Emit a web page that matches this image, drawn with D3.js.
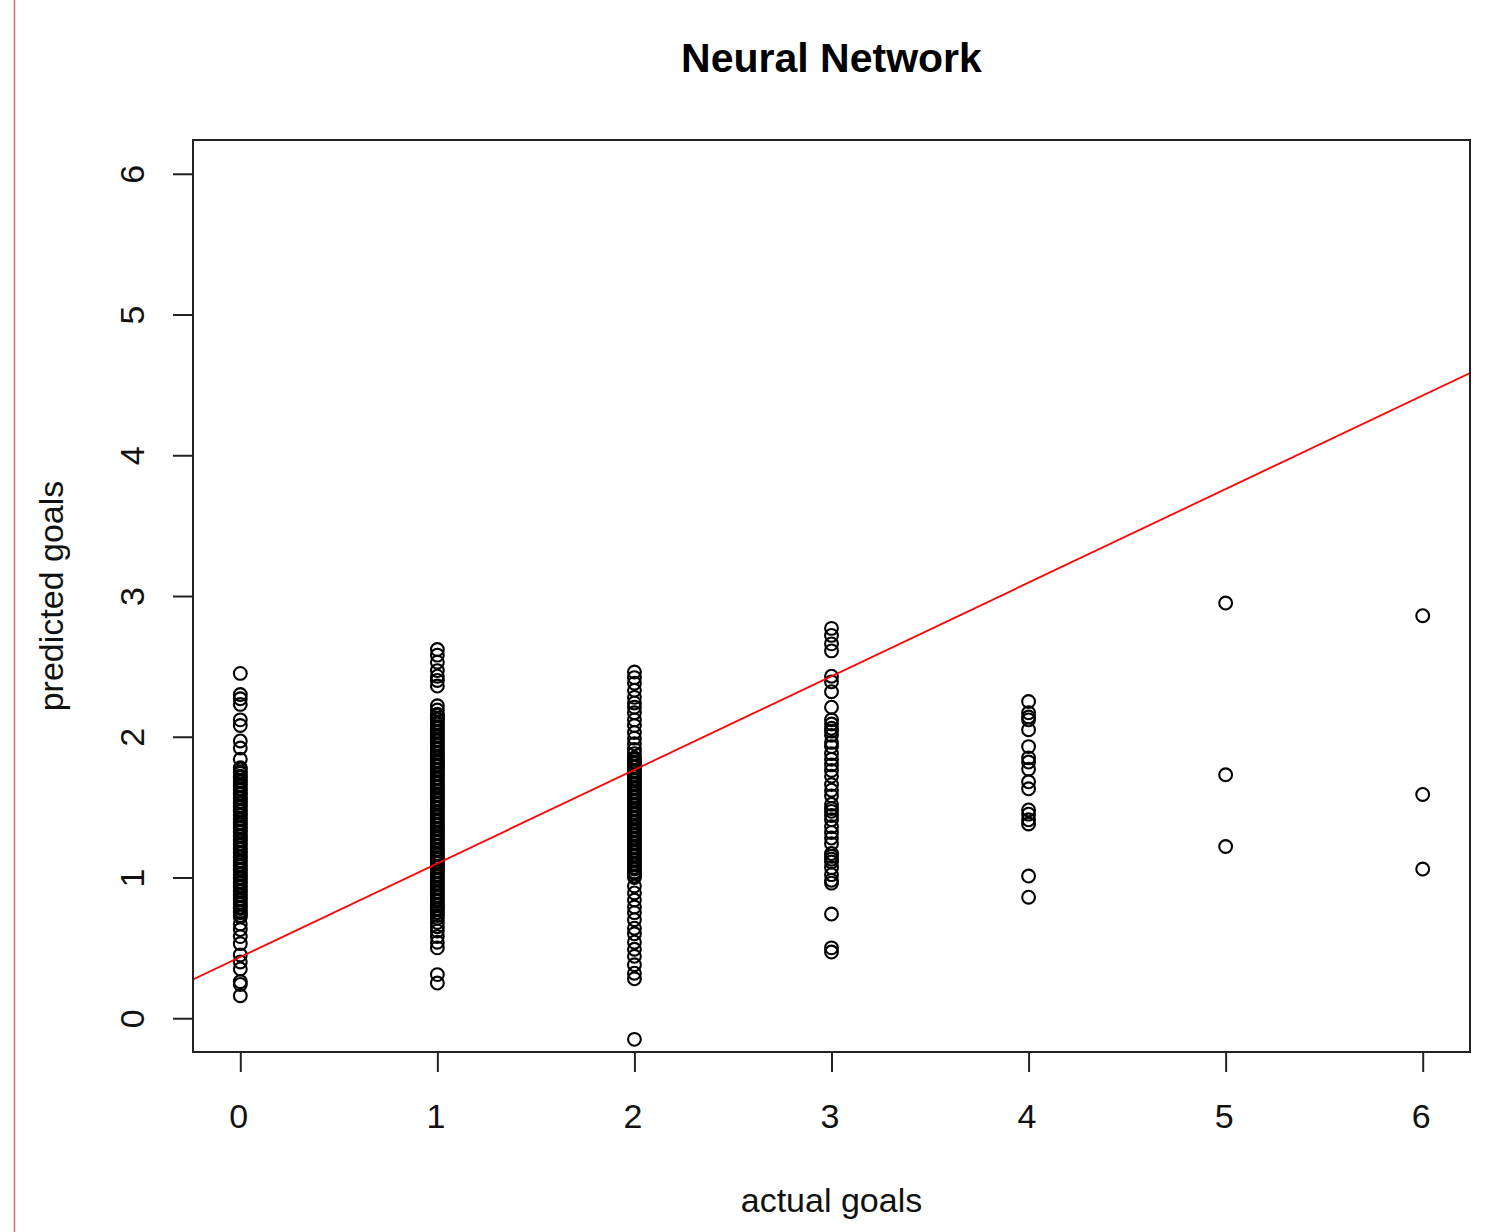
<!DOCTYPE html>
<html>
<head>
<meta charset="utf-8">
<script src="https://cdn.jsdelivr.net/npm/d3@7"></script>
<style>
  body { margin: 0; background: #fff; }
  svg { display: block; font-family: "Liberation Sans", Arial, sans-serif; }
</style>
</head>
<body>
<div id="chart"></div>
<script>
// actual goals (x categories) and predicted goals
const actualGoals = [0, 1, 2, 3, 4, 5, 6];

const predicted0 = [2.45, 2.30, 2.27, 2.23, 2.12, 2.08, 1.97, 1.92, 1.84,
  1.78, 1.77, 1.75, 1.74, 1.72, 1.71, 1.69, 1.68, 1.66, 1.65, 1.63, 1.62, 1.60, 1.59, 1.57, 1.56,
  1.54, 1.53, 1.51, 1.50, 1.48, 1.47, 1.45, 1.44, 1.42, 1.41, 1.39, 1.38, 1.36, 1.35, 1.33, 1.32,
  1.30, 1.29, 1.27, 1.26, 1.24, 1.23, 1.21, 1.20, 1.18, 1.17, 1.15, 1.14, 1.12, 1.11, 1.09, 1.08,
  1.06, 1.05, 1.03, 1.02, 1.00, 0.99, 0.97, 0.96, 0.94, 0.93, 0.91, 0.90, 0.88, 0.87, 0.85, 0.84,
  0.82, 0.81, 0.79, 0.78, 0.76, 0.75, 0.73, 0.72,
  0.67, 0.63, 0.58, 0.53, 0.45, 0.40, 0.35, 0.26, 0.24, 0.16];

const predicted1 = [2.62, 2.58, 2.53, 2.47, 2.43, 2.40, 2.36, 2.22, 2.19,
  2.16, 2.15, 2.13, 2.12, 2.10, 2.09, 2.07, 2.06, 2.04, 2.03, 2.01, 2.00, 1.98, 1.97, 1.95, 1.94,
  1.92, 1.91, 1.89, 1.88, 1.86, 1.85, 1.83, 1.82, 1.80, 1.79, 1.77, 1.76, 1.74, 1.73, 1.71, 1.70,
  1.68, 1.67, 1.65, 1.64, 1.62, 1.61, 1.59, 1.58, 1.56, 1.55, 1.53, 1.52, 1.50, 1.49, 1.47, 1.46,
  1.44, 1.43, 1.41, 1.40, 1.38, 1.37, 1.35, 1.34, 1.32, 1.31, 1.29, 1.28, 1.26, 1.25, 1.23, 1.22,
  1.20, 1.19, 1.17, 1.16, 1.14, 1.13, 1.11, 1.10, 1.08, 1.07, 1.05, 1.04, 1.02, 1.01, 0.99, 0.98,
  0.96, 0.95, 0.93, 0.92, 0.90, 0.89, 0.87, 0.86, 0.84, 0.83, 0.81, 0.80, 0.78, 0.77, 0.75, 0.73,
  0.71, 0.68, 0.65, 0.62, 0.58, 0.54, 0.50, 0.31, 0.25];

const predicted2 = [2.46, 2.42, 2.38, 2.33, 2.28, 2.24, 2.21, 2.17, 2.12, 2.08, 2.03, 1.99, 1.95, 1.91, 1.88,
  1.85, 1.84, 1.82, 1.81, 1.79, 1.78, 1.76, 1.75, 1.73, 1.72, 1.70, 1.69, 1.67, 1.66, 1.64, 1.63,
  1.61, 1.60, 1.58, 1.57, 1.55, 1.54, 1.52, 1.51, 1.49, 1.48, 1.46, 1.45, 1.43, 1.42, 1.40, 1.39,
  1.37, 1.36, 1.34, 1.33, 1.31, 1.30, 1.28, 1.27, 1.25, 1.24, 1.22, 1.21, 1.19, 1.18, 1.16, 1.15,
  1.13, 1.12, 1.10, 1.09, 1.07, 1.06, 1.04, 1.03, 1.01, 1.00,
  0.94, 0.89, 0.84, 0.79, 0.75, 0.70, 0.64, 0.60, 0.54, 0.49, 0.44, 0.38, 0.32, 0.28, -0.15];

const predicted3 = [2.77, 2.72, 2.66, 2.61, 2.43, 2.39, 2.32, 2.21, 2.12, 2.09, 2.06, 2.04, 2.01,
  1.96, 1.93, 1.88, 1.84, 1.80, 1.76, 1.72, 1.66, 1.62, 1.58, 1.52, 1.49, 1.47, 1.44, 1.41,
  1.36, 1.32, 1.28, 1.24, 1.17, 1.15, 1.13, 1.11, 1.07, 1.02, 0.98, 0.96, 0.74, 0.50, 0.47];

const predicted4 = [2.25, 2.17, 2.14, 2.12, 2.05, 1.93, 1.85, 1.82, 1.77, 1.68, 1.63,
  1.48, 1.45, 1.41, 1.38, 1.01, 0.86];

const predicted5 = [2.95, 1.73, 1.22];
const predicted6 = [2.86, 1.59, 1.06];

const predictedByGoal = [predicted0, predicted1, predicted2, predicted3, predicted4, predicted5, predicted6];

// fitted line (abline)
const fitIntercept = 0.435;
const fitSlope = 0.665;

const xTicks = [0, 1, 2, 3, 4, 5, 6];
const yTicks = [0, 1, 2, 3, 4, 5, 6];

const W = 1487, H = 1232;
const plot = { left: 193, right: 1470, top: 140, bottom: 1052 };

const points = [];
actualGoals.forEach((g, i) => {
  predictedByGoal[i].forEach(p => points.push({ actual: g, predicted: p }));
});

const svg = d3.select('#chart')
  .append('svg')
  .attr('width', W)
  .attr('height', H);

// page margin rule on the left
svg.append('line')
  .attr('x1', 14.5).attr('x2', 14.5)
  .attr('y1', 0).attr('y2', H)
  .attr('stroke', '#d96a6a')
  .attr('stroke-width', 1.5);

const x = d3.scaleLinear()
  .domain([-0.24, 6.24])
  .range([plot.left, plot.right]);

const y = d3.scaleLinear()
  .domain([-0.24, 6.24])
  .range([plot.bottom, plot.top]);

svg.append('defs').append('clipPath')
  .attr('id', 'plot-clip')
  .append('rect')
  .attr('x', plot.left).attr('y', plot.top)
  .attr('width', plot.right - plot.left)
  .attr('height', plot.bottom - plot.top);

// points
svg.append('g')
  .attr('clip-path', 'url(#plot-clip)')
  .selectAll('circle')
  .data(points)
  .join('circle')
  .attr('cx', d => x(d.actual))
  .attr('cy', d => y(d.predicted))
  .attr('r', 6.4)
  .attr('fill', 'none')
  .attr('stroke', '#000')
  .attr('stroke-width', 2.1);

// regression line
const xd = x.domain();
svg.append('line')
  .attr('clip-path', 'url(#plot-clip)')
  .attr('x1', x(xd[0])).attr('y1', y(fitIntercept + fitSlope * xd[0]))
  .attr('x2', x(xd[1])).attr('y2', y(fitIntercept + fitSlope * xd[1]))
  .attr('stroke', '#ff0000')
  .attr('stroke-width', 1.8);

// box
svg.append('rect')
  .attr('x', plot.left).attr('y', plot.top)
  .attr('width', plot.right - plot.left)
  .attr('height', plot.bottom - plot.top)
  .attr('fill', 'none')
  .attr('stroke', '#222')
  .attr('stroke-width', 2);

// axes
const xAxis = d3.axisBottom(x)
  .tickValues(xTicks)
  .tickSize(20)
  .tickSizeOuter(0)
  .tickFormat(d => `${d}`);

const yAxis = d3.axisLeft(y)
  .tickValues(yTicks)
  .tickSize(20)
  .tickSizeOuter(0)
  .tickFormat(d => `${d}`);

const gx = svg.append('g')
  .attr('transform', `translate(0,${plot.bottom})`)
  .call(xAxis);

const gy = svg.append('g')
  .attr('transform', `translate(${plot.left},0)`)
  .call(yAxis);

[gx, gy].forEach(g => {
  g.select('.domain').remove();
  g.selectAll('.tick line').attr('stroke', '#222').attr('stroke-width', 2);
  g.selectAll('.tick text')
    .attr('fill', '#111')
    .style('font-size', '34px')
    .style('font-family', '"Liberation Sans", Arial, sans-serif');
});

gx.selectAll('.tick text').attr('dy', null).attr('y', 0)
  .attr('transform', 'translate(-2,76)');

gy.selectAll('.tick text')
  .attr('x', null).attr('dy', null)
  .attr('text-anchor', 'middle')
  .attr('transform', 'translate(-49,0) rotate(-90)');

// titles
svg.append('text')
  .attr('x', (plot.left + plot.right) / 2)
  .attr('y', 72)
  .attr('text-anchor', 'middle')
  .style('font-size', '41px')
  .style('font-weight', 'bold')
  .attr('fill', '#000')
  .text('Neural Network');

svg.append('text')
  .attr('x', (plot.left + plot.right) / 2)
  .attr('y', 1212)
  .attr('text-anchor', 'middle')
  .style('font-size', '34px')
  .attr('fill', '#111')
  .text('actual goals');

svg.append('text')
  .attr('transform', `translate(63,${(plot.top + plot.bottom) / 2}) rotate(-90)`)
  .attr('text-anchor', 'middle')
  .style('font-size', '34px')
  .attr('fill', '#111')
  .text('predicted goals');
</script>
</body>
</html>
